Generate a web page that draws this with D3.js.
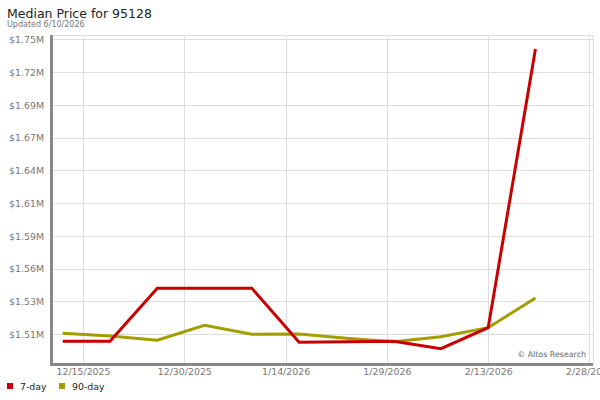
<!DOCTYPE html>
<html>
<head>
<meta charset="utf-8">
<script src="https://cdn.jsdelivr.net/npm/d3@7/dist/d3.min.js"></script>
<style>
  html, body { margin: 0; padding: 0; background: #fff; }
  svg { display: block; font-family: "DejaVu Sans", Verdana, sans-serif; }
</style>
</head>
<body>
<svg id="chart" width="600" height="400"></svg>
<script>
// ---- data ----
const dates = ["2025-12-12","2025-12-19","2025-12-26","2026-01-02","2026-01-09","2026-01-16",
               "2026-01-23","2026-01-30","2026-02-06","2026-02-13","2026-02-20"];
const sevenDay = [1501300, 1501300, 1544400, 1544400, 1544400, 1500600,
                  1501000, 1501300, 1495300, 1512400, 1739200];
const ninetyDay = [1507800, 1505600, 1502100, 1514300, 1507000, 1507200,
                   1503700, 1501000, 1505000, 1512400, 1536500];
const yTickValues = [1507000, 1533700, 1560400, 1587100, 1613800, 1640500, 1667200, 1693900, 1720600, 1747300];
const yTickLabels = ["$1.51M","$1.53M","$1.56M","$1.59M","$1.61M","$1.64M","$1.67M","$1.69M","$1.72M","$1.75M"];
const xTickDates = ["2025-12-15","2025-12-30","2026-01-14","2026-01-29","2026-02-13","2026-02-28"];
const xTickLabels = ["12/15/2025","12/30/2025","1/14/2026","1/29/2026","2/13/2026","2/28/2026"];
const seriesNames = ["7-day", "90-day"];
const seriesColors = ["#c80000", "#a39e00"];
const yDomain = [1482800, 1750700];
const xDomain = ["2025-12-10T09:50:00Z", "2026-02-28T12:30:00Z"];

(function () {
// ---- layout ----
const svg = d3.select("#chart");
const pL = 52, pR = 593, pT = 35, pB = 364;
const parse = s => new Date(s.length === 10 ? s + "T00:00:00Z" : s);

const x = d3.scaleUtc().domain(xDomain.map(parse)).range([pL, pR]);
const y = d3.scaleLinear().domain(yDomain).range([pB, pT]);

svg.append("text").attr("x", 7).attr("y", 18)
  .attr("font-size", "12.5px").attr("fill", "#222").text("Median Price for 95128");
svg.append("text").attr("x", 7).attr("y", 27)
  .attr("font-size", "8px").attr("fill", "#777").text("Updated 6/10/2026");

// grid
const grid = svg.append("g");
grid.selectAll("line.h").data(yTickValues).join("line")
  .attr("x1", pL).attr("x2", pR)
  .attr("y1", d => Math.round(y(d)) + 0.5).attr("y2", d => Math.round(y(d)) + 0.5)
  .attr("stroke", "#dddddd").attr("stroke-width", 1);
grid.selectAll("line.v").data(xTickDates).join("line")
  .attr("y1", pT).attr("y2", pB)
  .attr("x1", d => Math.round(x(parse(d))) + 0.5).attr("x2", d => Math.round(x(parse(d))) + 0.5)
  .attr("stroke", "#dddddd").attr("stroke-width", 1);
grid.append("line").attr("x1", pL).attr("x2", pR).attr("y1", pT + 0.5).attr("y2", pT + 0.5)
  .attr("stroke", "#dddddd");
grid.append("line").attr("x1", pR + 0.5).attr("x2", pR + 0.5).attr("y1", pT).attr("y2", pB)
  .attr("stroke", "#dddddd");

// y axis labels
const yAxis = d3.axisLeft(y).tickValues(yTickValues)
  .tickFormat((d, i) => yTickLabels[i]).tickSize(0).tickPadding(0);
const gy = svg.append("g").attr("transform", "translate(44,0)").call(yAxis);
gy.select(".domain").remove();
gy.selectAll("text").attr("font-family", "DejaVu Sans, Verdana, sans-serif")
  .attr("font-size", "9.4px").attr("fill", "#777").attr("dy", "0.35em");

// x axis labels
const xAxis = d3.axisBottom(x).tickValues(xTickDates.map(parse))
  .tickFormat((d, i) => xTickLabels[i]).tickSize(0).tickPadding(0);
const gx = svg.append("g").attr("transform", "translate(0,368)").call(xAxis);
gx.select(".domain").remove();
gx.selectAll("text").attr("font-family", "DejaVu Sans, Verdana, sans-serif")
  .attr("font-size", "9.4px").attr("fill", "#777").attr("dy", "0.71em");

// axis lines (thick gray)
svg.append("line").attr("x1", pL - 0.5).attr("x2", pL - 0.5).attr("y1", pT).attr("y2", pB + 2)
  .attr("stroke", "#888").attr("stroke-width", 3);
svg.append("line").attr("x1", pL - 2).attr("x2", pR).attr("y1", pB + 0.5).attr("y2", pB + 0.5)
  .attr("stroke", "#888").attr("stroke-width", 3);

// watermark
svg.append("text").attr("x", 586).attr("y", 357).attr("text-anchor", "end")
  .attr("font-size", "7.9px").attr("fill", "#666").text("\u00A9 Altos Research");

// lines
const line = d3.line().x((d, i) => x(parse(dates[i]))).y(d => y(d));
svg.append("path").datum(ninetyDay).attr("d", line)
  .attr("fill", "none").attr("stroke", seriesColors[1]).attr("stroke-width", 3);
svg.append("path").datum(sevenDay).attr("d", line)
  .attr("fill", "none").attr("stroke", seriesColors[0]).attr("stroke-width", 3);

// legend
const legX = [7, 59];
const leg = svg.append("g");
seriesNames.forEach((n, i) => {
  leg.append("rect").attr("x", legX[i]).attr("y", 383).attr("width", 6).attr("height", 6)
    .attr("fill", seriesColors[i]);
  leg.append("text").attr("x", legX[i] + 13).attr("y", 390)
    .attr("font-size", "9.4px").attr("fill", "#222").text(n);
});
})();
</script>
</body>
</html>
